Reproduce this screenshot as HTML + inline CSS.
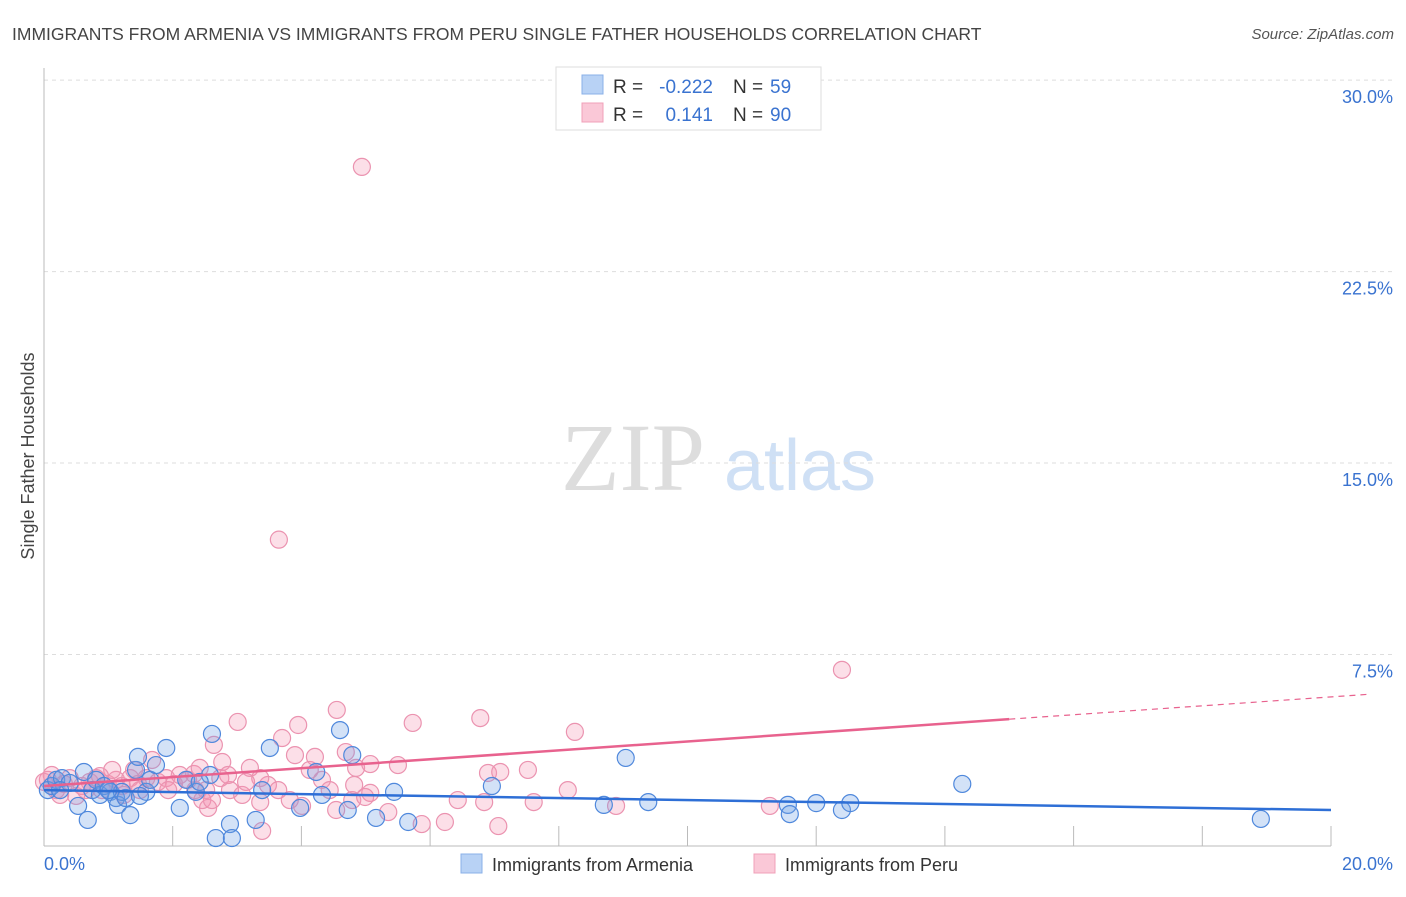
<!DOCTYPE html>
<html><head><meta charset="utf-8"><style>
body{margin:0;background:#fff;font-family:"Liberation Sans",sans-serif;}
svg text{font-family:"Liberation Sans",sans-serif;}
</style></head><body>
<svg id="chart" width="1406" height="892" viewBox="0 0 1406 892" xmlns="http://www.w3.org/2000/svg">
<text x="12" y="40" font-size="17.5" fill="#444">IMMIGRANTS FROM ARMENIA VS IMMIGRANTS FROM PERU SINGLE FATHER HOUSEHOLDS CORRELATION CHART</text>
<text x="1394" y="39" font-size="15" fill="#555" font-style="italic" text-anchor="end">Source: ZipAtlas.com</text>
<g>
<text x="633" y="490" font-size="96" fill="#ddd" font-family="Liberation Serif,serif" text-anchor="middle" style="font-family:'Liberation Serif',serif">ZIP</text>
<text x="800" y="490" font-size="72" fill="#cfe0f5" text-anchor="middle">atlas</text>
</g>
<g id="grid"></g>
<g id="axes"></g>
<g id="points"></g>
<g id="trends"></g>
<text transform="translate(34,456) rotate(-90)" font-size="18" fill="#444" text-anchor="middle">Single Father Households</text>
<g>
<rect x="556" y="67" width="265" height="63" fill="#fff" stroke="#ddd"/>
<rect x="582" y="75" width="21" height="19" fill="#b8d2f5" stroke="#8ab0e8"/>
<rect x="582" y="103" width="21" height="19" fill="#fac8d7" stroke="#f0a0b8"/>
<text x="613" y="93" font-size="19" fill="#333">R =</text>
<text x="713" y="93" font-size="19" fill="#3a73d0" text-anchor="end">-0.222</text>
<text x="733" y="93" font-size="19" fill="#333">N =</text>
<text x="770" y="93" font-size="19" fill="#3a73d0">59</text>
<text x="613" y="121" font-size="19" fill="#333">R =</text>
<text x="713" y="121" font-size="19" fill="#3a73d0" text-anchor="end">0.141</text>
<text x="733" y="121" font-size="19" fill="#333">N =</text>
<text x="770" y="121" font-size="19" fill="#3a73d0">90</text>
</g>
<g>
<rect x="461" y="854" width="21" height="19" fill="#b8d2f5" stroke="#8ab0e8"/>
<text x="492" y="871" font-size="18" fill="#333">Immigrants from Armenia</text>
<rect x="754" y="854" width="21" height="19" fill="#fac8d7" stroke="#f0a0b8"/>
<text x="785" y="871" font-size="18" fill="#333">Immigrants from Peru</text>
</g>
</svg>
<script>
const armX=[0.06,0.12,0.19,0.28,0.40,0.53,0.62,0.68,0.75,0.81,0.87,0.93,1.03,1.12,1.15,1.21,1.27,1.34,1.43,1.46,1.59,1.65,1.74,1.90,2.11,2.21,2.36,2.58,2.61,2.67,2.89,2.92,3.29,3.39,3.51,3.98,4.23,4.32,4.60,4.72,4.79,5.16,5.44,5.66,6.96,8.70,9.04,9.39,11.56,11.59,12.00,12.40,12.53,14.27,18.91,0.25,1.49,2.42,1.0];
const armY=[2.19,2.35,2.59,2.66,2.47,1.57,2.90,1.02,2.19,2.59,2.00,2.35,2.12,1.88,1.61,2.12,1.88,1.21,2.98,3.49,2.12,2.59,3.17,3.84,1.49,2.59,2.12,2.78,4.39,0.31,0.86,0.31,1.02,2.19,3.84,1.49,2.90,2.00,4.54,1.41,3.56,1.10,2.12,0.94,2.35,1.61,3.45,1.72,1.61,1.25,1.68,1.41,1.68,2.43,1.06,2.19,1.96,2.51,2.19];
const peruX=[4.94,3.65,12.4,3.01,3.95,4.55,5.73,6.78,8.25,2.64,2.77,3.20,3.70,3.90,4.21,4.69,4.85,5.07,5.50,6.90,7.09,7.52,8.14,8.89,11.28,7.06,6.23,5.87,5.35,4.54,4.79,4.01,3.39,3.36,2.55,2.46,2.89,3.08,3.48,3.64,3.82,4.32,4.82,5.07,6.43,6.84,7.61,0.06,0.12,0.19,0.31,0.40,0.50,0.59,0.71,0.81,0.90,0.99,1.12,1.21,1.34,1.46,1.59,1.68,1.77,1.90,2.02,2.11,2.24,2.33,2.42,2.52,2.74,2.86,1.06,0.25,1.49,0.65,0.0,3.36,4.13,2.35,0.87,1.24,1.93,3.14,4.44,2.61,4.99,1.40];
const peruY=[26.6,12.0,6.9,4.86,4.74,5.33,4.82,5.01,4.47,3.96,3.29,3.06,4.23,3.56,3.49,3.68,3.06,3.21,3.17,2.86,2.90,2.98,2.19,1.57,1.57,0.78,0.94,0.86,1.33,1.41,1.80,1.57,0.59,1.72,1.49,1.80,2.19,2.00,2.39,2.19,1.80,2.59,2.39,2.08,1.80,1.72,1.72,2.59,2.78,2.19,2.43,2.66,1.96,2.35,2.51,2.66,2.19,2.43,2.59,2.35,2.66,2.43,2.66,3.37,2.51,2.66,2.43,2.78,2.59,2.82,3.06,2.19,2.66,2.78,2.98,2.00,2.19,2.19,2.51,2.66,2.98,2.19,2.74,2.00,2.19,2.51,2.19,1.80,1.92,2.98];
const armTrend=[2.19,1.41];
const peruTrend=[2.35,5.84];
const yTicks=[7.5,15.0,22.5,30.0];
const yTickLabels=["7.5%","15.0%","22.5%","30.0%"];
const xTickVals=[0,2,4,6,8,10,12,14,16,18,20];
const NS="http://www.w3.org/2000/svg";
const X=v=>44+v*64.35, Y=v=>846-v*25.53;
function mk(t,a,p){const e=document.createElementNS(NS,t);for(const k in a)e.setAttribute(k,a[k]);p.appendChild(e);return e;}
const grid=document.getElementById('grid'),axes=document.getElementById('axes'),pts=document.getElementById('points'),tr=document.getElementById('trends');
yTicks.forEach((v,i)=>{
 const l=mk('line',{x1:44,x2:1392,y1:Y(v),y2:Y(v),stroke:'#ddd','stroke-dasharray':'4,4'},grid);
 
 
 const t=mk('text',{x:1393,y:Y(v)+23,'font-size':18,fill:'#3a73d0','text-anchor':'end'},axes);
 t.textContent=yTickLabels[i];
 
 
});
const ax=mk('line',{x1:44,x2:44,y1:68,y2:846,stroke:'#bbb'},axes);


const bx=mk('line',{x1:44,x2:1331,y1:846,y2:846,stroke:'#bbb'},axes);


xTickVals.forEach(v=>{
 const t=mk('line',{x1:X(v),x2:X(v),y1:826,y2:846,stroke:'#bbb'},axes);
 
 
});
const xl=mk('text',{x:44,y:870,'font-size':18,fill:'#3a73d0'},axes);xl.textContent='0.0%';


const xr=mk('text',{x:1393,y:870,'font-size':18,fill:'#3a73d0','text-anchor':'end'},axes);xr.textContent='20.0%';


peruX.forEach((v,i)=>{
 const c=mk('circle',{cx:X(v),cy:Y(peruY[i]),r:8.5,fill:'rgba(244,150,180,0.3)',stroke:'#eb93b0','stroke-width':1.2},pts);
 
 
});
armX.forEach((v,i)=>{
 const c=mk('circle',{cx:X(v),cy:Y(armY[i]),r:8.5,fill:'rgba(110,160,230,0.3)',stroke:'#4f88dc','stroke-width':1.2},pts);
 
 
});
const pAt=x=>peruTrend[0]+(peruTrend[1]-peruTrend[0])*x/20;
const b=mk('line',{x1:X(0),y1:Y(armTrend[0]),x2:X(20),y2:Y(armTrend[1]),stroke:'#2e6fd6','stroke-width':2.5},tr);


const p1=mk('line',{x1:X(0),y1:Y(pAt(0)),x2:X(15),y2:Y(pAt(15)),stroke:'#e8628e','stroke-width':2.5},tr);


const p2=mk('line',{x1:X(15),y1:Y(pAt(15)),x2:X(20.6),y2:Y(pAt(20.6)),stroke:'#e8628e','stroke-width':1.2,'stroke-dasharray':'6,5'},tr);


</script>
</body></html>
